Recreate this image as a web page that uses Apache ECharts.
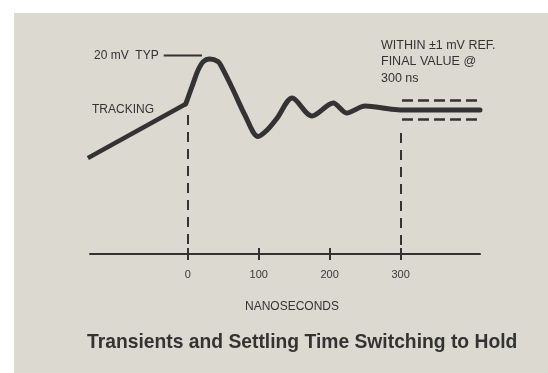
<!DOCTYPE html>
<html>
<head>
<meta charset="utf-8">
<script src="https://cdn.jsdelivr.net/npm/echarts@6/dist/echarts.min.js"></script>
<style>
  html, body { margin: 0; padding: 0; background: #ffffff; }
  #paper { position: absolute; left: 14px; top: 13px; width: 534px; height: 360px; background: #dcd9d0; }
  #chart { position: absolute; left: 0; top: 0; width: 548px; height: 373px; }
</style>
</head>
<body>
<div id="paper"></div>
<div id="chart"></div>
<script>
// Time axis (ns) and labelled ticks
const tickValuesNs = [0, 100, 200, 300];
const axisStartNs = -138;
const axisEndNs = 412;

// Output while tracking (straight ramp up to the hold command)
const trackingTimeNs = [-141, -3];
const trackingLevel = [-48, 6];

// Output after switching to hold: overshoot, ringing, settling
const transientTimeNs = [-3, 7.5, 14.5, 21.6, 31, 42.7, 47.5, 63.9, 80.4, 99, 111.8, 126, 147, 175, 205, 224, 250, 285, 302, 412];
const transientLevel = [6, 26.7, 40, 48.3, 51, 48.3, 43.3, 20, -5, -26.5, -20, -8, 12, -6, 7, -3, 4, 1, 0, 0];

// Error band around the final value
const bandLevels = [9.5, -9.5];
const bandTimeNs = [302, 412];

// Vertical markers at the hold command and at the settling time
const markerTimeNs = [0, 300];
const markerTopLevel = [-5, -23];

// Leader line from the "20 mV TYP" note to the overshoot peak
const leaderTimeNs = [-34, 20];
const leaderLevel = 54.5;

const levelMin = -144;
const levelMax = 70;

const ink = '#333333';
const font = '"Liberation Sans", Arial, Helvetica, sans-serif';

const toPairs = (xs, ys) => xs.map((x, i) => [x, ys[i]]);

const chart = echarts.init(document.getElementById('chart'), null, { renderer: 'canvas' });

const dashedMarkers = markerTimeNs.map((t, i) => [
  { coord: [t, markerTopLevel[i]] },
  { coord: [t, levelMin] }
]);
const bandLines = bandLevels.map(v => [
  { coord: [bandTimeNs[0], v] },
  { coord: [bandTimeNs[1], v] }
]);

chart.setOption({
  backgroundColor: 'transparent',
  animation: false,
  grid: { left: 90, right: 68, top: 40, bottom: 119, containLabel: false },
  xAxis: [
    {
      type: 'value', min: axisStartNs, max: axisEndNs, position: 'bottom',
      splitLine: { show: false },
      axisLine: { show: true, onZero: false, lineStyle: { color: ink, width: 2 } },
      axisTick: { show: true, inside: false, length: 6, customValues: tickValuesNs, lineStyle: { color: ink, width: 2 } },
      axisLabel: { show: true, customValues: tickValuesNs, margin: 15, color: '#3a3a3a', fontSize: 11, fontFamily: font }
    },
    {
      type: 'value', min: axisStartNs, max: axisEndNs, position: 'bottom',
      splitLine: { show: false },
      axisLine: { show: false, onZero: false },
      axisTick: { show: true, inside: true, length: 6, customValues: tickValuesNs, lineStyle: { color: ink, width: 2 } },
      axisLabel: { show: false }
    }
  ],
  yAxis: {
    type: 'value', min: levelMin, max: levelMax, show: false
  },
  series: [
    {
      name: 'Tracking',
      type: 'line',
      data: toPairs(trackingTimeNs, trackingLevel),
      symbol: 'none',
      lineStyle: { color: ink, width: 4.5 },
      markLine: {
        silent: true, symbol: 'none', label: { show: false },
        lineStyle: { color: ink, width: 2, type: [10, 7] },
        data: dashedMarkers
      }
    },
    {
      name: 'Hold',
      type: 'line',
      data: toPairs(transientTimeNs, transientLevel),
      symbol: 'none',
      smooth: 0.3,
      lineStyle: { color: ink, width: 5, cap: 'round', join: 'round' },
      markLine: {
        silent: true, symbol: 'none', label: { show: false },
        lineStyle: { color: ink, width: 2.5, type: [11, 5] },
        data: bandLines
      }
    },
    {
      name: 'Leader',
      type: 'line',
      data: leaderTimeNs.map(t => [t, leaderLevel]),
      symbol: 'none',
      lineStyle: { color: ink, width: 2 }
    }
  ],
  graphic: [
    { type: 'text', left: 94, top: 50, style: { text: '20 mV  TYP', fill: ink, font: '12px ' + font } },
    { type: 'text', left: 92, top: 104, style: { text: 'TRACKING', fill: ink, font: '12px ' + font } },
    { type: 'text', left: 381, top: 37, style: { text: 'WITHIN \u00b11 mV REF.\nFINAL VALUE @\n300 ns', fill: ink, font: '12.5px ' + font, lineHeight: 16.5 } },
    { type: 'text', left: 245, top: 301, style: { text: 'NANOSECONDS', fill: ink, font: '12px ' + font } },
    { type: 'text', left: 87, top: 333, style: { text: 'Transients and Settling Time Switching to Hold', fill: ink, font: 'bold 19.3px ' + font } }
  ]
});
</script>
</body>
</html>
